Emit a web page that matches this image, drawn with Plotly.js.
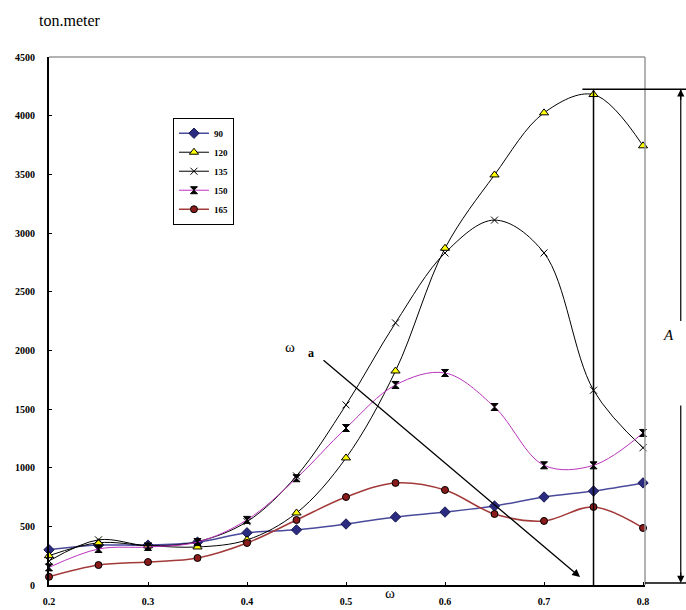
<!DOCTYPE html>
<html>
<head>
<meta charset="utf-8">
<script src="https://cdn.plot.ly/plotly-3.0.1.min.js"></script>
<style>html,body{margin:0;padding:0;background:#fff;}#chart{width:686px;height:610px;}</style>
</head>
<body>
<div id="chart"></div>
<script>
const omega = [0.2, 0.25, 0.3, 0.35, 0.4, 0.45, 0.5, 0.55, 0.6, 0.65, 0.7, 0.75, 0.8];
const s90  = [300, 340, 340, 365, 445, 470, 520, 580, 622, 673, 750, 801, 870];
const s120 = [250, 360, 335, 324, 384, 614, 1083, 1824, 2870, 3495, 4024, 4180, 3743];
const s135 = [205, 385, 335, 370, 540, 930, 1535, 2234, 2830, 3110, 2830, 1660, 1170];
const s150 = [150, 307, 324, 366, 555, 910, 1338, 1705, 1807, 1517, 1020, 1020, 1296];
const s165 = [70, 170, 196, 230, 358, 554, 750, 870, 810, 605, 546, 665, 486];
const seriesNames = ['90', '120', '135', '150', '165'];
const xTicks = [0.2, 0.3, 0.4, 0.5, 0.6, 0.7, 0.8];
const xTickText = ['0.2', '0.3', '0.4', '0.5', '0.6', '0.7', '0.8'];
const yTicks = [0, 500, 1000, 1500, 2000, 2500, 3000, 3500, 4000, 4500];

const common = {type: 'scatter', mode: 'lines+markers', x: omega, cliponaxis: false};
const traces = [
  Object.assign({}, common, {name: seriesNames[0], y: s90,
    line: {color: '#4a4a9c', width: 1.5, shape: 'spline'},
    marker: {symbol: 'diamond', size: 8, color: '#2b2b80', line: {color: '#1a1a55', width: 1}}}),
  Object.assign({}, common, {name: seriesNames[1], y: s120,
    line: {color: '#000000', width: 1, shape: 'spline'},
    marker: {symbol: 'triangle-up', size: 8, color: '#ffff00', line: {color: '#000000', width: 1}}}),
  Object.assign({}, common, {name: seriesNames[2], y: s135,
    line: {color: '#000000', width: 1, shape: 'spline'},
    marker: {symbol: 'x-thin-open', size: 7, color: '#000000', line: {color: '#000000', width: 1}}}),
  Object.assign({}, common, {name: seriesNames[3], y: s150,
    line: {color: '#bb33bb', width: 1, shape: 'spline'},
    marker: {symbol: 'hourglass', size: 7, color: '#000000', line: {color: '#000000', width: 1}}}),
  Object.assign({}, common, {name: seriesNames[4], y: s165,
    line: {color: '#a33a3a', width: 1.5, shape: 'spline'},
    marker: {symbol: 'circle', size: 7, color: '#8b1a1a', line: {color: '#000000', width: 1}}})
];

const tickFont = {family: 'Liberation Serif', size: 10, color: '#000', weight: 'bold'};

const layout = {
  width: 686, height: 610,
  margin: {l: 49, r: 41, t: 57, b: 25},
  paper_bgcolor: '#fff', plot_bgcolor: '#fff',
  showlegend: true,
  legend: {x: 0.208, y: 0.885, xanchor: 'left', yanchor: 'top',
    bgcolor: '#fff', bordercolor: '#000', borderwidth: 1,
    font: {family: 'Liberation Serif', size: 9, color: '#000', weight: 'bold'},
    itemwidth: 30, tracegroupgap: 0},
  xaxis: {range: [0.2, 0.802], tickvals: xTicks, ticktext: xTickText,
    showgrid: false, zeroline: false, showline: true, linecolor: '#000', linewidth: 2,
    ticks: 'inside', ticklen: 3, tickcolor: '#000', tickfont: tickFont, ticklabelstandoff: 6},
  yaxis: {range: [0, 4500], tickvals: yTicks,
    showgrid: false, zeroline: false, showline: true, linecolor: '#000', linewidth: 2,
    ticks: 'inside', ticklen: 3, tickcolor: '#000', tickfont: tickFont, ticklabelstandoff: 10},
  shapes: [
    {type: 'line', xref: 'paper', yref: 'paper', x0: 0, x1: 1, y0: 1, y1: 1, line: {color: '#999', width: 1.5}},
    {type: 'line', xref: 'paper', yref: 'paper', x0: 1, x1: 1, y0: 0, y1: 1, line: {color: '#999', width: 1.5}},
    {type: 'line', xref: 'paper', yref: 'paper', x0: 1, x1: 1.069, y0: 0.004, y1: 0.004, line: {color: '#000', width: 1.5}},
    {type: 'line', xref: 'x', yref: 'y', x0: 0.75, x1: 0.75, y0: 0, y1: 4225, line: {color: '#000', width: 1.5}},
    {type: 'line', xref: 'paper', yref: 'paper', x0: 0.895, x1: 1.069, y0: 0.939, y1: 0.939, line: {color: '#000', width: 1.5}},
    {type: 'line', xref: 'paper', yref: 'paper', x0: 1.060, x1: 1.060, y0: 0.939, y1: 0.5, line: {color: '#000', width: 1.2}},
    {type: 'line', xref: 'paper', yref: 'paper', x0: 1.060, x1: 1.060, y0: 0.34, y1: 0.01, line: {color: '#000', width: 1.2}}
  ],
  annotations: [
    {xref: 'paper', yref: 'paper', x: -0.02, y: 1.07, xanchor: 'left', yanchor: 'middle', showarrow: false,
      text: 'ton.meter', font: {family: 'Liberation Serif', size: 16, color: '#000'}},
    {xref: 'paper', yref: 'paper', x: 0.891, y: 0.015, showarrow: true, arrowhead: 2, arrowsize: 1.2, arrowwidth: 1.3,
      arrowcolor: '#000', ax: -258, ay: -218, text: ''},
    {xref: 'paper', yref: 'paper', x: 1.060, y: 0.939, showarrow: true, arrowhead: 2, arrowsize: 1.2, arrowwidth: 1.2,
      arrowcolor: '#000', ax: 0, ay: 12, text: ''},
    {xref: 'paper', yref: 'paper', x: 1.060, y: 0.004, showarrow: true, arrowhead: 2, arrowsize: 1.2, arrowwidth: 1.2,
      arrowcolor: '#000', ax: 0, ay: -12, text: ''},
    {xref: 'paper', yref: 'paper', x: 0.405, y: 0.451, showarrow: false, text: 'ω',
      font: {family: 'Liberation Serif', size: 15, color: '#000'}},
    {xref: 'paper', yref: 'paper', x: 0.44, y: 0.44, showarrow: false, text: 'a',
      font: {family: 'Liberation Serif', size: 12, color: '#000', weight: 'bold'}},
    {xref: 'paper', yref: 'paper', x: 1.052, y: 0.473, showarrow: false, text: '<i>A</i>',
      font: {family: 'Liberation Serif', size: 15, color: '#000'}},
    {xref: 'paper', yref: 'paper', x: 0.572, y: -0.034, showarrow: false, text: 'ω',
      font: {family: 'Liberation Serif', size: 15, color: '#000'}}
  ]
};

Plotly.newPlot('chart', traces, layout, {displayModeBar: false, staticPlot: true});
</script>
</body>
</html>
